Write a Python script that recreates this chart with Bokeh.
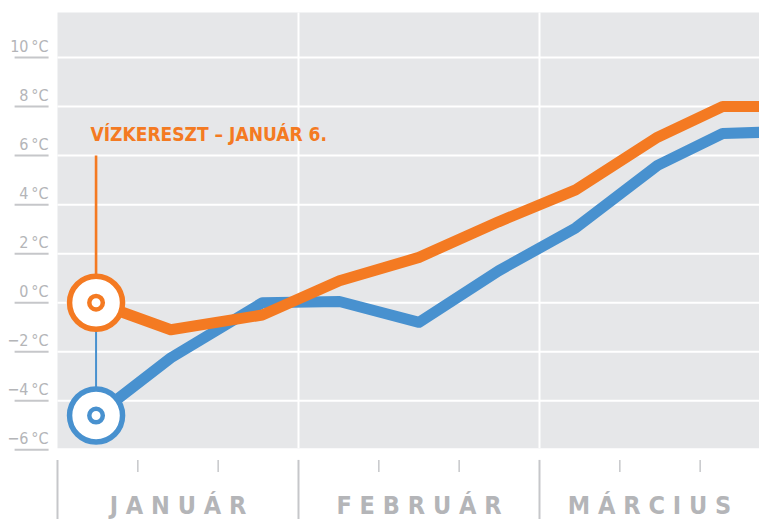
from bokeh.plotting import figure
from bokeh.models import Range1d
from bokeh.core.properties import value
from bokeh.embed import file_html
from bokeh.resources import INLINE

# ---- data ----
months = ["JANUÁR", "FEBRUÁR", "MÁRCIUS"]
x_pos = [0.16, 0.47, 0.85, 1.17, 1.50, 1.83, 2.15, 2.49, 2.76, 2.92]   # position in months from Jan 1
orange_vals = [0.0, -1.1, -0.5, 0.9, 1.85, 3.3, 4.6, 6.75, 8.0, 8.0]
blue_vals = [-4.6, -2.25, 0.0, 0.05, -0.8, 1.3, 3.05, 5.6, 6.9, 6.95]
y_ticks = [-6, -4, -2, 0, 2, 4, 6, 8, 10]
y_labels = [("−%d\u2009°C" % -v) if v < 0 else ("%d\u2009°C" % v) for v in y_ticks]
annotation = "VÍZKERESZT – JANUÁR 6."

# ---- style ----
ORANGE = "#f47a22"
BLUE = "#4891cf"
BG = "#e6e7e9"
GRAYTXT = "#b4b5b8"
GRAYLINE = "#c6c7ca"
FONT = "DejaVu Sans Condensed"

X0, X1 = -0.2365, 2.9129
Y0, Y1 = -8.84, 12.325
PLOT_TOP = 11.84
PLOT_BOT = -5.93

p = figure(width=759, height=519, x_range=Range1d(X0, X1), y_range=Range1d(Y0, Y1),
           output_backend="svg", toolbar_location=None, min_border=0,
           x_axis_location=None, y_axis_location=None, outline_line_color=None,
           background_fill_color="white", border_fill_color="white")
p.grid.visible = False

# plot background
p.quad(left=[0], right=[X1 + 0.1], bottom=[PLOT_BOT], top=[PLOT_TOP], fill_color=BG, line_color=None)

# horizontal gridlines
grid_y = [v for v in y_ticks if v > -6]
p.segment(x0=[0] * len(grid_y), x1=[X1 + 0.1] * len(grid_y), y0=grid_y, y1=grid_y,
          line_color="white", line_width=2)
# vertical month boundaries
p.segment(x0=[1, 2], x1=[1, 2], y0=[PLOT_BOT] * 2, y1=[PLOT_TOP] * 2, line_color="white", line_width=2)

# y labels with underline
p.segment(x0=[-0.178] * len(y_ticks), x1=[-0.037] * len(y_ticks), y0=y_ticks, y1=y_ticks,
          line_color=GRAYLINE, line_width=2)
p.text(x=[-0.037] * len(y_ticks), y=y_ticks, text=y_labels, text_align="right",
       text_baseline="middle", y_offset=-11, text_font=value(FONT),
       text_font_size="16px", text_color=GRAYTXT)

# month ticks below
major = [0, 1, 2]
p.segment(x0=major, x1=major, y0=[-6.41] * 3, y1=[Y0 - 0.5] * 3, line_color=GRAYLINE, line_width=2)
minor = [m + f for m in range(3) for f in (1 / 3, 2 / 3) if m + f < X1]
p.segment(x0=minor, x1=minor, y0=[-6.41] * len(minor), y1=[-6.9] * len(minor),
          line_color=GRAYLINE, line_width=1.5)
month_x = [(i + min(i + 1, X1)) / 2 for i in range(3)]
month_txt = ["\u00a0".join(list(m)) for m in months]
p.text(x=month_x, y=[-8.27] * 3, text=month_txt, text_align="center", text_baseline="middle",
       text_font=value(FONT), text_font_size="25px", text_font_style="bold", text_color=GRAYTXT)

# connectors
p.segment(x0=[x_pos[0]], x1=[x_pos[0]], y0=[orange_vals[0]], y1=[blue_vals[0]], line_color=BLUE, line_width=2)
p.segment(x0=[x_pos[0]], x1=[x_pos[0]], y0=[orange_vals[0]], y1=[6.0], line_color=ORANGE, line_width=2.6)

# series lines
p.line(x_pos, blue_vals, line_color=BLUE, line_width=11, line_join="round")
p.line(x_pos, orange_vals, line_color=ORANGE, line_width=11, line_join="round")

# start markers
for col, yv in ((ORANGE, orange_vals[0]), (BLUE, blue_vals[0])):
    p.scatter([x_pos[0]], [yv], size=53, fill_color="white", line_color=col, line_width=5.5)
    p.scatter([x_pos[0]], [yv], size=13.5, fill_color="white", line_color=col, line_width=4.5)

# annotation
p.text(x=[0.137], y=[6.90], text=[annotation], text_align="left", text_baseline="middle",
       text_font=value(FONT), text_font_size="19px", text_font_style="bold", text_color=ORANGE)

open("out.html", "w").write(file_html(p, INLINE))
